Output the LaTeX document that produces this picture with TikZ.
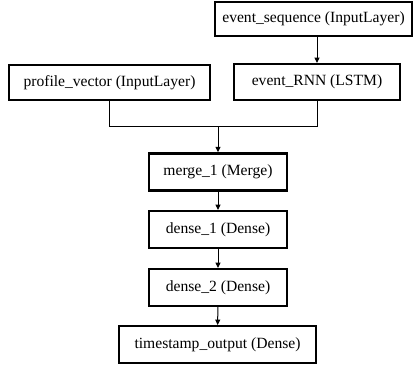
\documentclass[tikz,border=0pt]{standalone}
\usepackage{fontspec}
\setmainfont{Liberation Serif}
\usetikzlibrary{arrows.meta}
\begin{document}
\begin{tikzpicture}[x=1pt,y=1pt,
  layer/.style={draw=black, line width=2.4pt, fill=white, inner sep=0pt,
    font=\fontsize{15.6}{18}\selectfont},
  link/.style={draw=black, line width=1pt},
  flow/.style={link, -{Triangle[length=5.5pt,width=5pt]}}]
\useasboundingbox (0,0) rectangle (414,-369);

% layers of the network
\node[layer, minimum width=196.5pt, minimum height=33.5pt] (es) at (313.5,-19) {event\_sequence (InputLayer)};
\node[layer, minimum width=200.5pt, minimum height=34.5pt] (pv) at (109.5,-82.5) {profile\_vector (InputLayer)};
\node[layer, minimum width=165.5pt, minimum height=35.5pt] (rnn) at (317,-82) {event\_RNN (LSTM)};
\node[layer, minimum width=137.5pt, minimum height=37pt] (mg) at (218,-172) {merge\_1 (Merge)};
\node[layer, minimum width=137.5pt, minimum height=36.5pt] (d1) at (218,-229.5) {dense\_1 (Dense)};
\node[layer, minimum width=137.5pt, minimum height=36.5pt] (d2) at (218,-287.5) {dense\_2 (Dense)};
\node[layer, minimum width=196.5pt, minimum height=36.5pt] (ts) at (217.5,-344.5) {timestamp\_output (Dense)};

% junction where the two branches meet
\coordinate (j) at (218,-126);

% connectors
\draw[flow] (es.south -| rnn.south) -- (rnn.north);
\draw[link] (pv.south) -- (pv.south |- j) -- (rnn.south |- j) -- (rnn.south);
\draw[flow] (j) -- (mg.north);
\draw[flow] (mg) -- (d1);
\draw[flow] (d1) -- (d2);
\draw[flow] (d2) -- (ts);
\end{tikzpicture}
\end{document}
